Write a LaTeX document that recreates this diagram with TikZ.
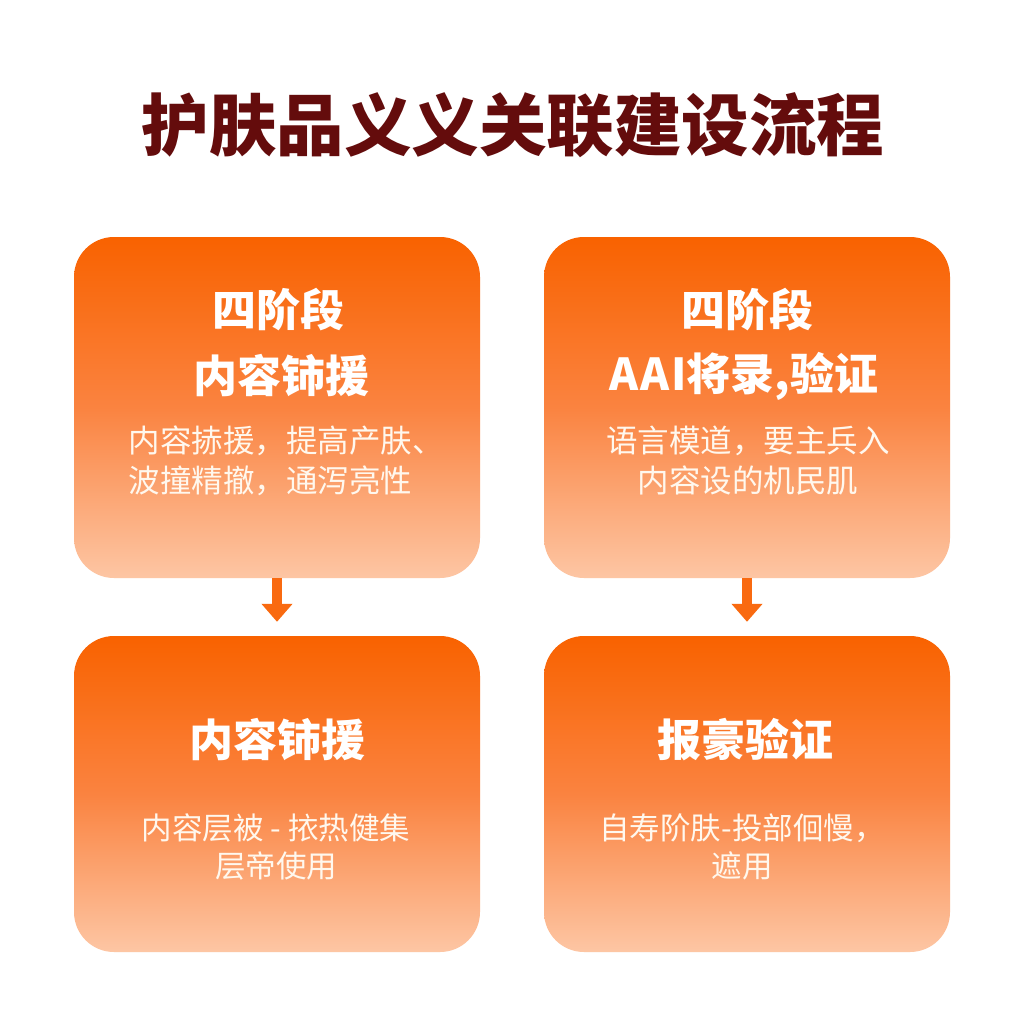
\documentclass[tikz,border=0pt]{standalone}
\usepackage{fontspec}
\setmainfont{Noto Sans CJK SC}
\newfontfamily\heavy{Noto Sans CJK SC Black}
\newfontfamily\boldcjk{Noto Sans CJK SC Bold}
\usetikzlibrary{arrows.meta}
\definecolor{titlered}{HTML}{640C0C}
\definecolor{otop}{HTML}{F96200}
\definecolor{omid}{HTML}{FA8340}
\definecolor{obot}{HTML}{FDC6A4}
\definecolor{arrowor}{HTML}{F96A10}
\definecolor{txtw}{HTML}{FFF8EE}
\tikzset{
  card/.style={rounded corners=40pt, minimum width=406pt, inner sep=0pt,
    top color=otop, bottom color=obot, middle color=omid, draw=none},
  headtxt/.style={text=white, font=\heavy\fontsize{44}{50}\selectfont, inner sep=0pt},
  subtxt/.style={text=txtw, font=\fontsize{31.5}{40}\selectfont, align=center, inner sep=0pt},
  flow/.style={arrowor, line width=10pt, -{Triangle[width=30pt,length=18pt]}, shorten >=14pt}
}
\begin{document}
\begin{tikzpicture}[x=1pt,y=-1pt]
\useasboundingbox[fill=white] (0,0) rectangle (1024,1024);
\node[text=titlered, font=\heavy\fontsize{67.5}{72}\selectfont, inner sep=0pt] (title) at (513,125) {护肤品义义关联建设流程};
\node[card, minimum height=341pt] (tl) at (277,407.5) {};
\node[card, minimum height=341pt] (tr) at (747,407.5) {};
\node[card, minimum height=316pt] (bl) at (277,794) {};
\node[card, minimum height=316pt] (br) at (747,794) {};
\node[headtxt] (tlh1) at (278,310) {四阶段};
\node[headtxt] (tlh2) at (281,376) {内容铈援};
\node[subtxt, align=left] (tls) at (286,461) {内容捇援，提高产肤、\\波撞精撤，通泻亮性};
\node[headtxt] (trh1) at (747,310) {四阶段};
\node[headtxt] (trh2) at (744,376) {A\kern2pt A\kern2pt I将录,验证};
\node[subtxt] (trs) at (748,461) {语言模道，要主兵入\\内容设的机民肌};
\node[headtxt] (blh) at (277,740) {内容铈援};
\node[subtxt, font=\fontsize{30.5}{38}\selectfont] (bls) at (276,847) {内容层被 - 挔热健集\\层帝使用};
\node[headtxt] (brh) at (745,740) {报豪验证};
\node[subtxt, font=\fontsize{30.5}{38}\selectfont] (brs) at (742,847) {自寿阶肤-投部佪慢，\\遮用};
\draw[flow] (tl.south) -- (bl.north);
\draw[flow] (tr.south) -- (br.north);
\end{tikzpicture}
\end{document}
